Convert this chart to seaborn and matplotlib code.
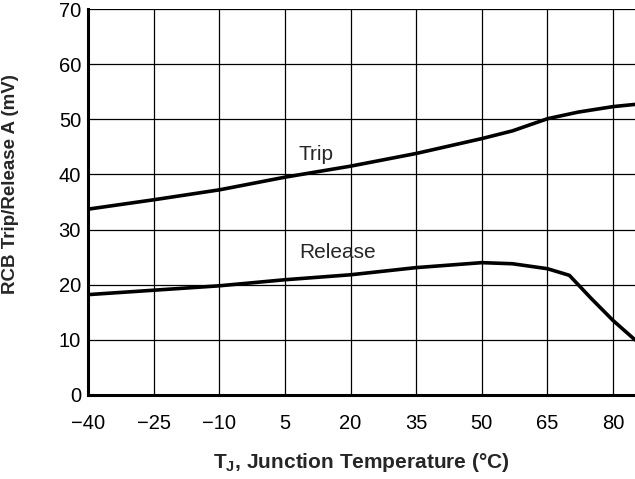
import numpy as np
import pandas as pd
import matplotlib
matplotlib.use("Agg")
import matplotlib.pyplot as plt
import seaborn as sns

trip_t = [-40, -25, -10, 5, 20, 35, 50, 57, 65, 72, 80, 85]
trip_v = [33.7, 35.4, 37.2, 39.5, 41.5, 43.8, 46.5, 47.9, 50.1, 51.3, 52.3, 52.7]
rel_t = [-40, -25, -10, 5, 20, 35, 50, 57, 65, 70, 75, 80, 85]
rel_v = [18.2, 19.0, 19.8, 20.9, 21.8, 23.1, 24.0, 23.8, 22.9, 21.7, 17.5, 13.5, 10.0]
x_ticks = [-40, -25, -10, 5, 20, 35, 50, 65, 80]
y_ticks = [0, 10, 20, 30, 40, 50, 60, 70]

sns.set_style("white")
plt.rcParams['font.family'] = ['Liberation Sans', 'DejaVu Sans']

fig = plt.figure(figsize=(6.35, 4.79), dpi=100)
ax = fig.add_axes([0.1386, 0.1754, 0.8614, 0.8058])

df_trip = pd.DataFrame({"T": trip_t, "V": trip_v})
df_rel = pd.DataFrame({"T": rel_t, "V": rel_v})
sns.lineplot(data=df_trip, x="T", y="V", ax=ax, color="black", linewidth=2.6, zorder=3)
sns.lineplot(data=df_rel, x="T", y="V", ax=ax, color="black", linewidth=2.6, zorder=3)

ax.set_xlim(-40, 85)
ax.set_ylim(0, 70)
ax.set_xticks(x_ticks)
ax.set_yticks(y_ticks)
ax.grid(True, color="black", linewidth=0.9)
ax.tick_params(axis="both", length=0, labelsize=14.5, colors="black")
ax.tick_params(axis="x", pad=13.5)
ax.tick_params(axis="y", pad=5)
for s in ["top", "right"]:
    ax.spines[s].set_visible(False)
for s in ["left", "bottom"]:
    ax.spines[s].set_linewidth(2.2)
    ax.spines[s].set_color("black")

ax.set_xlabel("T$_\\mathregular{J}$, Junction Temperature (°C)", fontsize=15, fontweight="bold")
ax.set_ylabel("RCB Trip/Release A (mV)", fontsize=13.5, fontweight="bold")
ax.xaxis.set_label_coords(0.5, -0.174)
ax.xaxis.label.set_va("center")
ax.yaxis.set_label_coords(-0.141, 0.547)
ax.yaxis.label.set_va("center")

ax.text(8.2, 43.7, "Trip", fontsize=15, ha="left", va="center")
ax.text(8.2, 25.8, "Release", fontsize=15, ha="left", va="center")

fig.savefig("out.png", dpi=100)
